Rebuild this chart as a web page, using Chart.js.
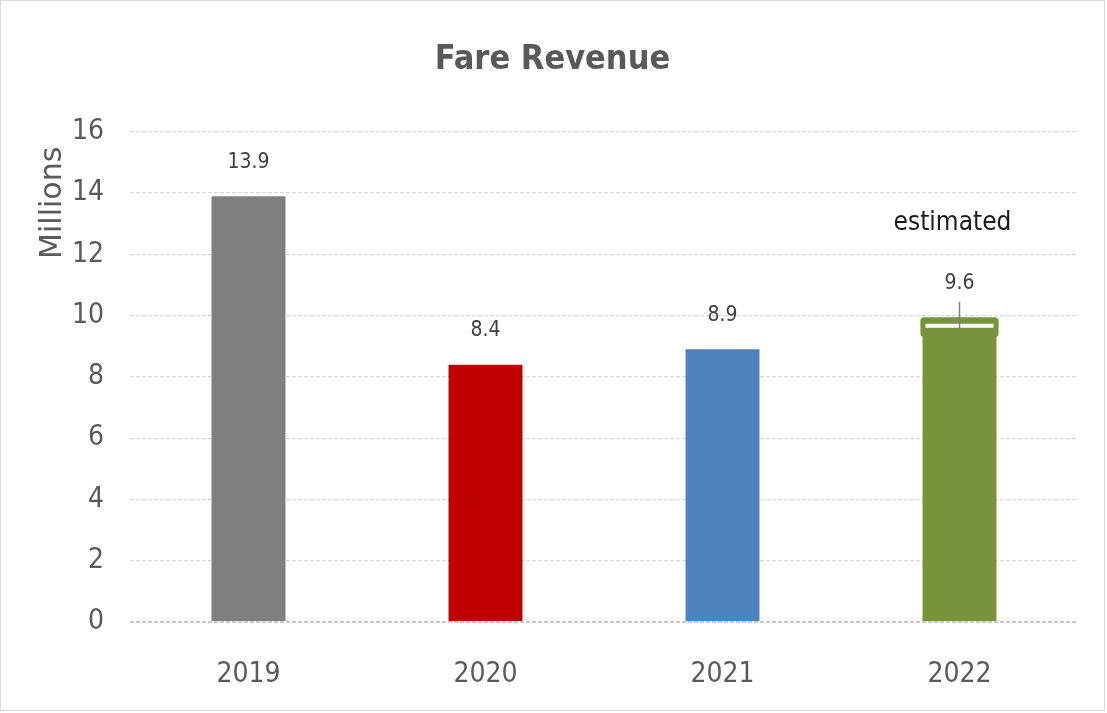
<!DOCTYPE html>
<html>
<head>
<meta charset="utf-8">
<script src="https://cdn.jsdelivr.net/npm/chart.js@4/dist/chart.umd.min.js"></script>
<style>
  html, body { margin: 0; padding: 0; background: #ffffff; }
  #wrap { position: absolute; left: 0; top: 0; width: 1103px; height: 709px; border: 1px solid #d9d9d9; background: #fff; }
  canvas { display: block; }
</style>
</head>
<body>
<div id="wrap"><canvas id="c" width="1103" height="709"></canvas></div>
<script>
// ---- data ----
const categories = ['2019', '2020', '2021', '2022'];
const revenue = [13.9, 8.4, 8.9, 9.6];
const barColors = ['#7f7f7f', '#c00000', '#4f81bd', '#77933c'];
const valueLabels = ['13.9', '8.4', '8.9', '9.6'];
const estimateCap = [null, null, null, [9.3, 9.95]];
const estimateMarker = [null, null, null, 9.67];
const errorLow = [null, null, null, 9.6];
const errorHigh = [null, null, null, 10.45];
const notes = ['', '', '', 'estimated'];
const yTicks = [0, 2, 4, 6, 8, 10, 12, 14, 16];
const yTitle = 'Millions';

const NARROW = "'Liberation Sans Narrow', 'DejaVu Sans Condensed', 'Roboto Condensed', sans-serif";

const labelPlugin = {
  id: 'valueLabels',
  afterDatasetsDraw(chart) {
    const ctx = chart.ctx;
    const x = chart.scales.x, y = chart.scales.y;
    ctx.save();
    ctx.textAlign = 'center';
    ctx.textBaseline = 'middle';
    categories.forEach((c, i) => {
      const px = x.getPixelForValue(i);
      let py;
      if (errorHigh[i] != null) py = y.getPixelForValue(errorHigh[i]) - 18;
      else py = y.getPixelForValue(revenue[i]) - 34;
      ctx.font = '21px ' + NARROW;
      ctx.fillStyle = '#404040';
      ctx.fillText(valueLabels[i], px, py);
      if (notes[i]) {
        ctx.font = '26px ' + NARROW;
        ctx.fillStyle = '#1a1a1a';
        ctx.fillText(notes[i], px - 7, py - 61);
      }
    });
    // y axis title
    ctx.translate(52, chart.chartArea.top + 71);
    ctx.rotate(-Math.PI / 2);
    ctx.font = "30px 'DejaVu Sans', sans-serif";
    ctx.fillStyle = '#595959';
    ctx.fillText(yTitle, 0, 0);
    ctx.restore();
  }
};

new Chart(document.getElementById('c'), {
  data: {
    labels: categories,
    datasets: [
      {
        type: 'line',
        label: 'range',
        data: [{x: categories[3], y: errorLow[3]}, {x: categories[3], y: errorHigh[3]}],
        borderColor: '#808080',
        borderWidth: 1.5,
        pointRadius: 0,
        order: 0
      },
      {
        type: 'line',
        label: 'marker',
        data: estimateMarker,
        showLine: false,
        pointStyle: 'line',
        pointRadius: 34,
        pointBorderColor: '#ffffff',
        pointBorderWidth: 4,
        pointHoverRadius: 34,
        order: 1
      },
      {
        type: 'bar',
        label: 'cap',
        data: estimateCap,
        backgroundColor: '#77933c',
        borderRadius: 4,
        borderSkipped: false,
        grouped: false,
        barPercentage: 0.33,
        categoryPercentage: 1,
        order: 2
      },
      {
        type: 'bar',
        label: 'Fare Revenue',
        data: revenue,
        backgroundColor: barColors,
        grouped: false,
        barPercentage: 0.312,
        categoryPercentage: 1,
        order: 3
      }
    ]
  },
  options: {
    responsive: false,
    animation: false,
    layout: { autoPadding: false, padding: { top: 0, right: 26, bottom: 17, left: 26 } },
    plugins: {
      legend: { display: false },
      tooltip: { enabled: false },
      title: {
        display: true,
        text: 'Fare Revenue',
        color: '#595959',
        font: { family: NARROW, size: 34, weight: 'bold', lineHeight: 1.2 },
        padding: { top: 39, bottom: 51 }
      }
    },
    scales: {
      x: {
        type: 'category',
        grid: { display: false, drawTicks: true, tickLength: 36 },
        border: { display: false },
        ticks: { color: '#595959', font: { family: NARROW, size: 28 }, padding: 0 },
        afterFit(s) { s.height = 71; s.paddingLeft = 0; s.paddingRight = 0; }
      },
      y: {
        min: 0, max: 16,
        afterBuildTicks(s) { s.ticks = yTicks.map(v => ({ value: v })); },
        grid: {
          color: (ctx) => ctx.tick && ctx.tick.value === 0 ? '#c8c8c8' : '#d9d9d9',
          lineWidth: (ctx) => ctx.tick && ctx.tick.value === 0 ? 2 : 1.2,
          drawTicks: false
        },
        border: { display: false, dash: [4, 2] },
        ticks: { color: '#595959', font: { family: NARROW, size: 28 }, padding: 26 },
        afterFit(s) { s.width = 103; s.paddingLeft = 0; s.paddingRight = 0; }
      }
    }
  },
  plugins: [labelPlugin]
});
</script>
</body>
</html>
